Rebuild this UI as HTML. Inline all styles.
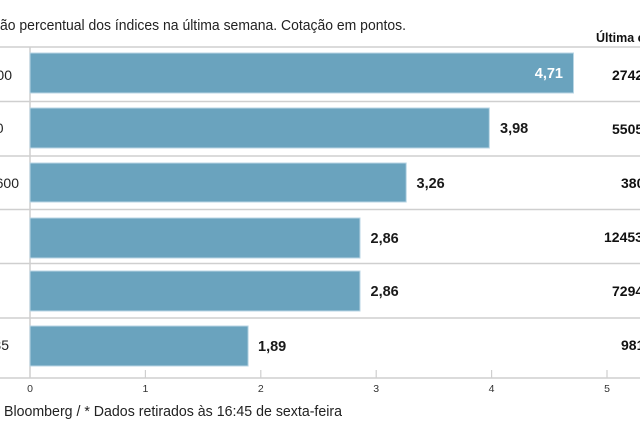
<!DOCTYPE html>
<html>
<head>
<meta charset="utf-8">
<style>
html,body{margin:0;padding:0;background:#fff;}
svg{display:block;}
text{font-family:"Liberation Sans",sans-serif;}
</style>
</head>
<body>
<svg width="640" height="426" viewBox="0 0 640 426" xmlns="http://www.w3.org/2000/svg">
<rect width="640" height="426" fill="#fff"/>
<!-- title -->
<text x="0" y="30" font-size="14.5" fill="#222" textLength="406" lengthAdjust="spacingAndGlyphs">ão percentual dos índices na última semana. Cotação em pontos.</text>
<text x="596" y="42" font-size="12.5" font-weight="bold" fill="#111">Última cotação</text>

<!-- separators -->
<g stroke="#cfcfcf" stroke-width="1.5">
<line x1="0" y1="47" x2="640" y2="47"/>
<line x1="0" y1="101.5" x2="640" y2="101.5"/>
<line x1="0" y1="156" x2="640" y2="156"/>
<line x1="0" y1="209.5" x2="640" y2="209.5"/>
<line x1="0" y1="263.5" x2="640" y2="263.5"/>
<line x1="0" y1="318" x2="640" y2="318"/>
<line x1="0" y1="378" x2="640" y2="378"/>
<line x1="30" y1="47" x2="30" y2="378"/>
</g>

<!-- bars -->
<g fill="#6aa3be" stroke="#b9d6e4" stroke-width="1">
<rect x="30" y="53" width="543.5" height="40"/>
<rect x="30" y="108" width="459.3" height="40"/>
<rect x="30" y="163" width="376.2" height="39"/>
<rect x="30" y="218" width="330" height="40"/>
<rect x="30" y="271" width="330" height="40"/>
<rect x="30" y="326" width="218.1" height="40"/>
</g>

<!-- bar labels -->
<g font-size="14.5" font-weight="bold" fill="#1a1a1a">
<text x="563" y="78" fill="#fff" text-anchor="end">4,71</text>
<text x="500" y="133">3,98</text>
<text x="416.5" y="188">3,26</text>
<text x="370.5" y="243">2,86</text>
<text x="370.5" y="296">2,86</text>
<text x="258" y="351">1,89</text>
</g>

<!-- left labels -->
<g font-size="14" fill="#222" text-anchor="end">
<text x="12" y="80">S&amp;P 500</text>
<text x="3.5" y="133">DAX 30</text>
<text x="19" y="188">Stoxx 600</text>
<text x="9" y="350">IBEX 35</text>
</g>

<!-- right column -->
<g font-size="14" font-weight="bold" fill="#111">
<text x="612" y="80">27423,5</text>
<text x="612" y="134">55051,2</text>
<text x="621" y="188">3802,1</text>
<text x="604" y="242">12453,7</text>
<text x="612" y="296">72945,1</text>
<text x="621" y="350">9812,4</text>
</g>

<!-- ticks -->
<g stroke="#cfcfcf" stroke-width="1.2">
<line x1="145.4" y1="370" x2="145.4" y2="378"/>
<line x1="260.8" y1="370" x2="260.8" y2="378"/>
<line x1="376.2" y1="370" x2="376.2" y2="378"/>
<line x1="491.6" y1="370" x2="491.6" y2="378"/>
<line x1="607" y1="370" x2="607" y2="378"/>
</g>
<g font-size="10.5" fill="#333" text-anchor="middle">
<text x="30" y="392">0</text>
<text x="145.4" y="392">1</text>
<text x="260.8" y="392">2</text>
<text x="376.2" y="392">3</text>
<text x="491.6" y="392">4</text>
<text x="607" y="392">5</text>
</g>

<!-- footer -->
<text x="4" y="416" font-size="14.5" fill="#222" textLength="338" lengthAdjust="spacingAndGlyphs">Bloomberg / * Dados retirados às 16:45 de sexta-feira</text>
</svg>
</body>
</html>
